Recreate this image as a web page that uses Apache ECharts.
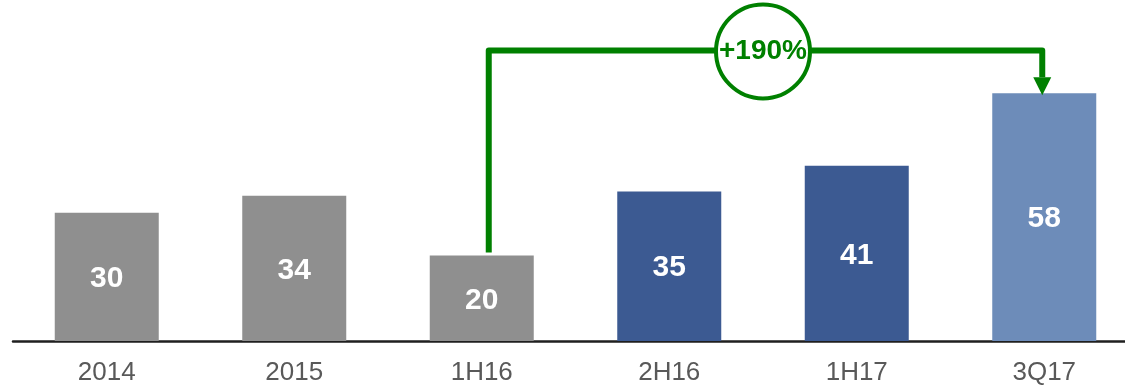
<!DOCTYPE html>
<html>
<head>
<meta charset="utf-8">
<script src="https://cdn.jsdelivr.net/npm/echarts@6/dist/echarts.min.js"></script>
<style>
html,body{margin:0;padding:0;background:#fff;}
#main{width:1125px;height:389px;}
</style>
</head>
<body>
<div id="main"></div>
<script>
const categories = ['2014', '2015', '1H16', '2H16', '1H17', '3Q17'];
const values = [30, 34, 20, 35, 41, 58];
const barColors = ['#8f8f8f', '#8f8f8f', '#8f8f8f', '#3c5a92', '#3c5a92', '#6d8cb9'];
const growthLabel = '+190%';
const growthFrom = 2;
const growthTo = 5;
const bracketLevel = 68;

const green = '#008000';
const chart = echarts.init(document.getElementById('main'), null, {renderer: 'canvas'});

chart.setOption({
  animation: false,
  backgroundColor: '#ffffff',
  grid: {left: 13, width: 1125, top: 0, height: 341, containLabel: false, outerBoundsMode: 'none'},
  xAxis: {
    type: 'category',
    data: categories,
    axisLine: {show: true, lineStyle: {color: '#1f1f1f', width: 2.5}},
    axisTick: {show: false},
    axisLabel: {color: '#595959', fontSize: 26, fontFamily: 'Liberation Sans', margin: 19}
  },
  yAxis: {
    type: 'value', min: 0, max: 79.8, show: false,
    splitLine: {show: false}
  },
  series: [
    {
      type: 'bar',
      barWidth: 104,
      data: values.map((v, i) => ({value: v, itemStyle: {color: barColors[i]}})),
      label: {
        show: true, position: 'inside', offset: [0, 2], color: '#ffffff',
        fontSize: 30, fontWeight: 'bold', fontFamily: 'Liberation Sans'
      }
    },
    {
      type: 'custom',
      data: [[growthFrom, growthTo, bracketLevel]],
      z: 10,
      renderItem: function (params, api) {
        const from = api.value(0), to = api.value(1), lvl = api.value(2);
        const p0 = api.coord([from, values[from]]);
        const p1 = api.coord([to, values[to]]);
        const yTop = api.coord([from, lvl])[1];
        const x0 = p0[0] + 7, x1 = p1[0] - 2;
        const mid = (p0[0] + p1[0]) / 2;
        return {
          type: 'group',
          children: [
            {type: 'polyline', shape: {points: [[x0, p0[1] - 3], [x0, yTop], [x1, yTop], [x1, p1[1] - 16]]},
             style: {stroke: green, lineWidth: 6, fill: null, lineJoin: 'round'}},
            {type: 'polygon', shape: {points: [[x1 - 9, p1[1] - 16], [x1 + 9, p1[1] - 16], [x1, p1[1] + 2]]},
             style: {fill: green}},
            {type: 'circle', shape: {cx: mid, cy: yTop + 1, r: 47},
             style: {fill: '#ffffff', stroke: green, lineWidth: 4}},
            {type: 'text', style: {text: growthLabel, x: mid, y: yTop + 1, align: 'center', verticalAlign: 'middle',
              font: 'bold 28px "Liberation Sans"', fill: green}}
          ]
        };
      }
    }
  ]
});
</script>
</body>
</html>
